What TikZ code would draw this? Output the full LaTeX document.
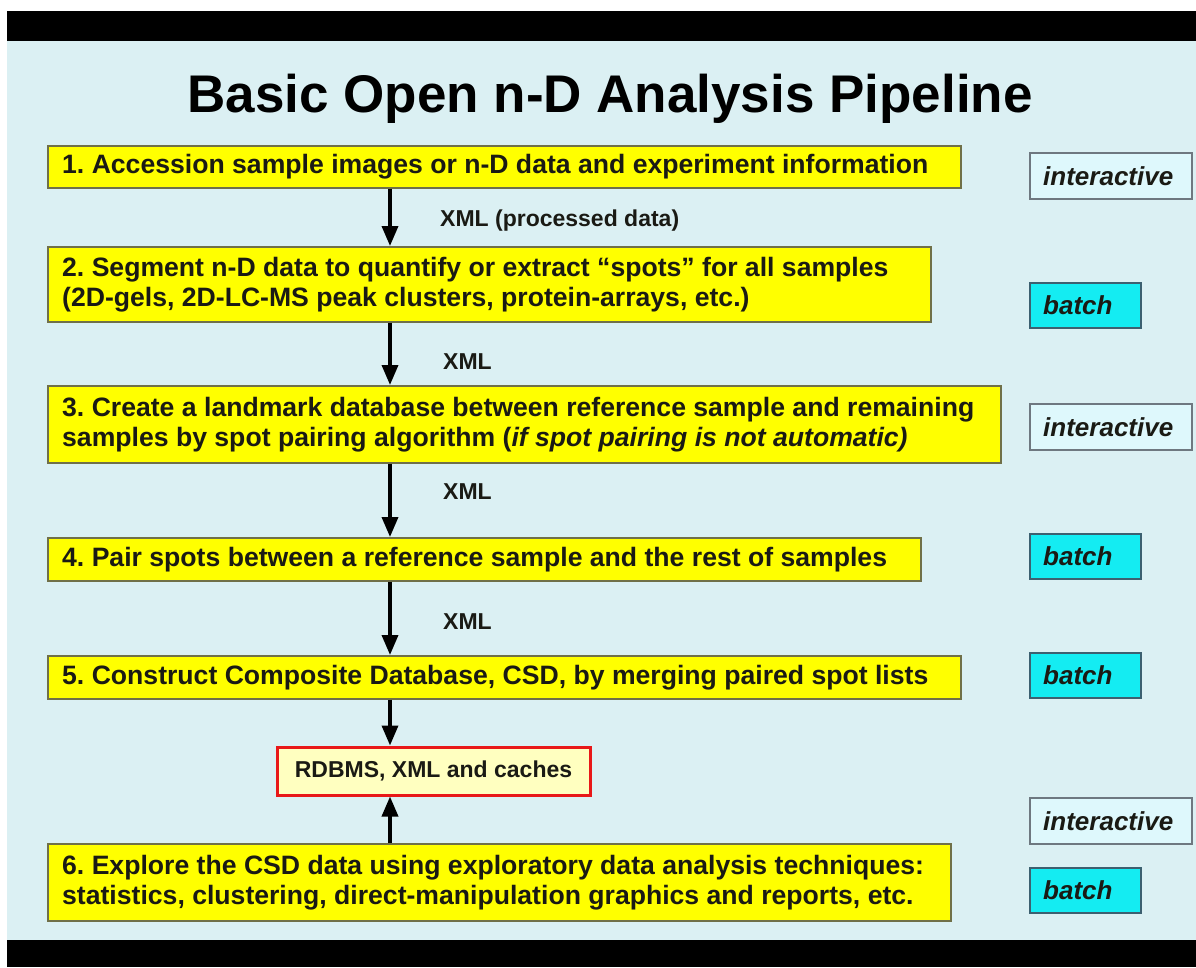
\documentclass[tikz,border=0pt]{standalone}
\usepackage{fontspec}
\setmainfont{Liberation Sans}
\usetikzlibrary{arrows.meta}
\frenchspacing

\definecolor{slidebg}{RGB}{219,240,243}
\definecolor{stepfill}{RGB}{255,255,0}
\definecolor{stepedge}{RGB}{112,112,72}
\definecolor{ink}{RGB}{26,26,20}
\definecolor{interfill}{RGB}{222,248,252}
\definecolor{interedge}{RGB}{110,120,128}
\definecolor{batchfill}{RGB}{20,236,242}
\definecolor{batchedge}{RGB}{60,96,112}
\definecolor{dbfill}{RGB}{255,255,192}
\definecolor{dbedge}{RGB}{232,24,24}

\tikzset{
  stepbox/.style={draw=stepedge, line width=1.6pt, fill=stepfill,
    anchor=north west, inner sep=0pt},
  steptext/.style={anchor=west, align=left, inner sep=0pt, text=ink,
    font=\bfseries\fontsize{26.6}{30}\selectfont},
  interbox/.style={draw=interedge, line width=1.5pt, fill=interfill,
    anchor=north west, inner sep=0pt, minimum width=162pt, minimum height=46pt},
  batchbox/.style={draw=batchedge, line width=1.5pt, fill=batchfill,
    anchor=north west, inner sep=0pt, minimum width=111pt, minimum height=45pt},
  modetext/.style={anchor=west, inner sep=0pt, text=ink,
    font=\bfseries\itshape\fontsize{26}{30}\selectfont},
  flowlabel/.style={anchor=west, inner sep=0pt, text=ink,
    font=\bfseries\fontsize{23}{27}\selectfont},
  flow/.style={line width=3.5pt, -{Triangle[length=20pt,width=16pt]}},
}

\begin{document}
\begin{tikzpicture}[x=1pt,y=-1pt]
\useasboundingbox (0,0) rectangle (1196,967);
% slide frame
\fill[white] (0,0) rectangle (1196,967);
\fill[slidebg] (7,41) rectangle (1196,940);
\fill[black] (7,11) rectangle (1196,41);
\fill[black] (7,940) rectangle (1196,967);

% title
\node[anchor=base, inner sep=0pt, font=\bfseries\fontsize{53}{60}\selectfont]
  (title) at (610,112) {Basic Open n-D Analysis Pipeline};

% pipeline steps
\node[stepbox, minimum width=913pt, minimum height=42pt] (b1) at (47,145) {};
\node[stepbox, minimum width=883pt, minimum height=75pt] (b2) at (47,246) {};
\node[stepbox, minimum width=953pt, minimum height=77pt] (b3) at (47,385) {};
\node[stepbox, minimum width=873pt, minimum height=43pt] (b4) at (47,537) {};
\node[stepbox, minimum width=913pt, minimum height=43pt] (b5) at (47,655) {};
\node[stepbox, minimum width=903pt, minimum height=77pt] (b6) at (47,843) {};

\node[steptext] (t1) at ([xshift=15pt]b1.west)
  {1. Accession sample images or n-D data and experiment information};
\node[steptext] (t2) at ([xshift=15pt]b2.west)
  {2. Segment n-D data to quantify or extract “spots” for all samples\\
   (2D-gels, 2D-LC-MS peak clusters, protein-arrays, etc.)};
\node[steptext] (t3) at ([xshift=15pt]b3.west)
  {3. Create a landmark database between reference sample and remaining\\
   samples by spot pairing algorithm (\textit{if spot pairing is not automatic)}};
\node[steptext] (t4) at ([xshift=15pt]b4.west)
  {4. Pair spots between a reference sample and the rest of samples};
\node[steptext] (t5) at ([xshift=15pt]b5.west)
  {5. Construct Composite Database, CSD, by merging paired spot lists};
\node[steptext] (t6) at ([xshift=15pt]b6.west)
  {6. Explore the CSD data using exploratory data analysis techniques:\\
   statistics, clustering, direct-manipulation graphics and reports, etc.};

% shared store
\node[draw=dbedge, line width=3pt, fill=dbfill, minimum width=313pt,
  minimum height=48pt, inner sep=0pt, text=ink,
  font=\bfseries\fontsize{23}{27}\selectfont] (db) at (433.5,771)
  {RDBMS, XML and caches};

% connectors
\coordinate (ax) at (390,0);
\draw[flow] (b1.south -| ax) -- (b2.north -| ax);
\draw[flow] (b2.south -| ax) -- (b3.north -| ax);
\draw[flow] (b3.south -| ax) -- (b4.north -| ax);
\draw[flow] (b4.south -| ax) -- (b5.north -| ax);
\draw[flow] (b5.south -| ax) -- (db.north -| ax);
\draw[flow] (b6.north -| ax) -- (db.south -| ax);

\node[flowlabel] (l1) at (440,221) {XML (processed data)};
\node[flowlabel] (l2) at (443,362) {XML};
\node[flowlabel] (l3) at (443,492) {XML};
\node[flowlabel] (l4) at (443,622) {XML};

% processing modes
\node[interbox] (m1) at (1029,152) {};
\node[batchbox] (m2) at (1029,282) {};
\node[interbox] (m3) at (1029,403) {};
\node[batchbox] (m4) at (1029,533) {};
\node[batchbox] (m5) at (1029,652) {};
\node[interbox] (m6) at (1029,797) {};
\node[batchbox] (m7) at (1029,867) {};

\node[modetext] at ([xshift=14pt]m1.west) {interactive};
\node[modetext] at ([xshift=14pt]m2.west) {batch};
\node[modetext] at ([xshift=14pt]m3.west) {interactive};
\node[modetext] at ([xshift=14pt]m4.west) {batch};
\node[modetext] at ([xshift=14pt]m5.west) {batch};
\node[modetext] at ([xshift=14pt]m6.west) {interactive};
\node[modetext] at ([xshift=14pt]m7.west) {batch};
\end{tikzpicture}
\end{document}
